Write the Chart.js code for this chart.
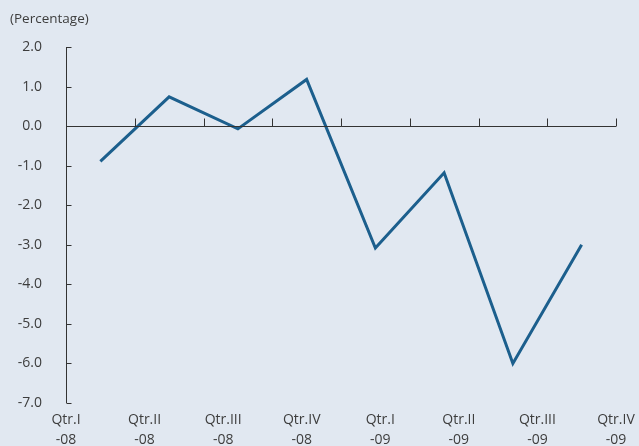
<!DOCTYPE html>
<html>
<head>
<meta charset="utf-8">
<script src="https://cdn.jsdelivr.net/npm/chart.js@4.4.1/dist/chart.umd.min.js"></script>
<style>
  html, body { margin: 0; padding: 0; background: #e1e8f1; }
  #wrap { width: 639px; height: 446px; }
</style>
</head>
<body>
<div id="wrap"><canvas id="chart"></canvas></div>
<script>
// quarterly growth, percent
const quarters = ['Q1-08', 'Q2-08', 'Q3-08', 'Q4-08', 'Q1-09', 'Q2-09', 'Q3-09', 'Q4-09'];
const growth = [-0.89, 0.74, -0.07, 1.18, -3.08, -1.18, -6.0, -3.0];
const tickLabels = [
  ['Qtr.I', '-08'], ['Qtr.II', '-08'], ['Qtr.III', '-08'], ['Qtr.IV', '-08'],
  ['Qtr.I', '-09'], ['Qtr.II', '-09'], ['Qtr.III', '-09'], ['Qtr.IV', '-09']
];
const yMin = -7;
const yMax = 2;
const unitLabel = '(Percentage)';

const FONT = '"Open Sans", Lato, sans-serif';
const TEXT = '#3d3d3d';
const AXIS = '#333333';

// axis lines + inward ticks, like the source chart
const axesPlugin = {
  id: 'axes',
  beforeDraw(chart) {
    const { ctx, width, height } = chart;
    ctx.save();
    ctx.fillStyle = '#e1e8f1';
    ctx.fillRect(0, 0, width, height);
    ctx.restore();
  },
  afterDatasetsDraw(chart) {
    const { ctx, chartArea } = chart;
    const x = chart.scales.x, y = chart.scales.y;
    const zero = Math.round(y.getPixelForValue(0)) + 0.5;
    const left = Math.round(chartArea.left) + 0.5;
    ctx.save();
    ctx.strokeStyle = AXIS;
    ctx.lineWidth = 1;
    ctx.beginPath();
    // y axis
    ctx.moveTo(left, chartArea.top);
    ctx.lineTo(left, chartArea.bottom);
    for (let v = yMin; v <= yMax; v++) {
      const py = Math.round(y.getPixelForValue(v)) + 0.5;
      ctx.moveTo(left, py);
      ctx.lineTo(left + 5, py);
    }
    // x axis at zero
    ctx.moveTo(left, zero);
    ctx.lineTo(chartArea.right, zero);
    for (let i = 1; i <= quarters.length; i++) {
      const px = Math.round(x.getPixelForValue(i - 0.5)) + 0.5;
      ctx.moveTo(px, zero);
      ctx.lineTo(px, zero - 8);
    }
    ctx.stroke();

    ctx.fillStyle = TEXT;
    ctx.font = '13.5px ' + FONT;
    ctx.textBaseline = 'middle';
    ctx.textAlign = 'left';
    ctx.fillText(unitLabel, 10, 19);
    ctx.restore();
  }
};

new Chart(document.getElementById('chart'), {
  type: 'line',
  data: {
    labels: quarters,
    datasets: [{
      data: growth,
      borderColor: '#1c5f8d',
      borderWidth: 3,
      pointRadius: 0,
      tension: 0,
      xAxisID: 'x',
      yAxisID: 'y'
    }]
  },
  options: {
    responsive: true,
    maintainAspectRatio: false,
    animation: false,
    layout: { padding: { left: 0, right: 23, top: 47, bottom: 0 } },
    plugins: { legend: { display: false }, tooltip: { enabled: false } },
    scales: {
      x: {
        type: 'category',
        offset: true,
        display: false
      },
      xl: {
        type: 'category',
        position: 'bottom',
        labels: tickLabels,
        offset: false,
        grid: { display: false, drawTicks: false },
        border: { display: false },
        ticks: {
          padding: 7,
          color: TEXT,
          font: { family: FONT, size: 14, lineHeight: 1.43 },
          maxRotation: 0,
          autoSkip: false
        },
        afterFit(s) {
          s.height = 43;
          s.paddingLeft = 0;
          s.paddingRight = 0;
        }
      },
      y: {
        min: yMin,
        max: yMax,
        grid: { display: false, drawTicks: false },
        border: { display: false },
        ticks: {
          stepSize: 1,
          padding: 24,
          color: TEXT,
          font: { family: FONT, size: 14 },
          callback: v => v.toFixed(1)
        },
        afterFit(s) { s.width = 66; }
      }
    }
  },
  plugins: [axesPlugin]
});
</script>
</body>
</html>
